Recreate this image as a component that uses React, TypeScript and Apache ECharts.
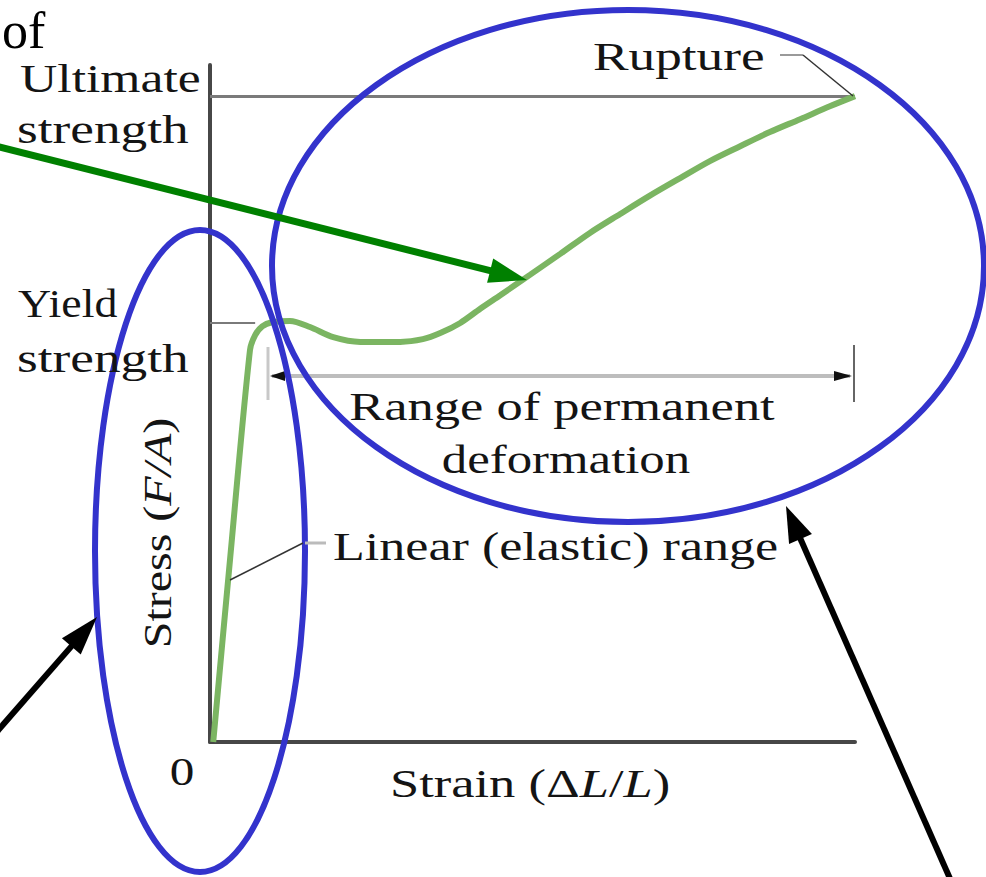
import React, { useEffect, useRef } from 'react';
import * as echarts from 'echarts';

// Stress–strain curve (strain in % of rupture strain, stress in % of axis height)
const strain = [0.5, 3.1, 6.2, 7.0, 8.1, 9.6, 12.4, 15.5, 19.1, 23.3, 29.5, 33.0, 35.7, 38.8, 41.9, 45.0, 49.6, 54.3, 58.9, 63.6, 68.2, 72.9, 77.5, 82.2, 86.8, 91.5, 96.1, 100];
const stress = [0, 26.9, 57.9, 60.1, 61.4, 62.0, 62.2, 61.3, 59.8, 59.1, 59.1, 59.5, 60.4, 61.9, 64.0, 66.0, 69.0, 72.1, 75.2, 78.0, 80.7, 83.3, 85.8, 88.0, 90.1, 92.0, 93.9, 95.4];

const yieldStrength = 62.0;
const ultimateStrength = 95.4;
const yieldMarkEnd = 7.0;
const ruptureStrain = 100;

const axisMin = [0, 0];
const axisMax = [100, 100];

const yAxisLabels = [
  ['Ultimate', 'strength'],
  ['Yield', 'strength'],
];
const originLabel = '0';
const annotationTexts = {
  rupture: 'Rupture',
  range: ['Range of permanent', 'deformation'],
  linear: 'Linear (elastic) range',
  slide: 'of',
};

const SERIF = '"Liberation Serif", "Times New Roman", serif';
const TEXT = '#141414';

function arrow(x1: number, y1: number, x2: number, y2: number, color: string, lw: number, headLen: number, headHalf: number) {
  const dx = x2 - x1, dy = y2 - y1;
  const L = Math.hypot(dx, dy);
  const ux = dx / L, uy = dy / L;
  const bx = x2 - ux * headLen, by = y2 - uy * headLen;
  const px = -uy, py = ux;
  return [
    { type: 'line', z: 100, shape: { x1, y1, x2: bx + ux * 3, y2: by + uy * 3 }, style: { stroke: color, lineWidth: lw } },
    {
      type: 'polygon', z: 100,
      shape: { points: [[x2, y2], [bx + px * headHalf, by + py * headHalf], [bx - px * headHalf, by - py * headHalf]] },
      style: { fill: color },
    },
  ];
}

function label(text: string, x: number, baseline: number, opts: any = {}) {
  const fs = opts.fontSize ?? 41;
  return {
    type: 'text', z: 100,
    x, y: baseline - 0.34 * fs,
    scaleX: opts.scaleX ?? 1.28,
    rotation: opts.rotation ?? 0,
    style: {
      text,
      x: 0, y: 0,
      fontFamily: SERIF,
      fontSize: fs,
      fill: opts.fill ?? TEXT,
      align: opts.align ?? 'left',
      verticalAlign: 'middle',
    },
  };
}

export default function App() {
  const ref = useRef<HTMLDivElement>(null);
  useEffect(() => {
    const chart = echarts.init(ref.current!, null, { renderer: 'svg' });
    const richBase = { fontFamily: SERIF, fontSize: 41, fill: TEXT, color: TEXT };
    const option: any = {
      animation: false,
      backgroundColor: '#ffffff',
      grid: { left: 210, top: 65, width: 645, height: 677, containLabel: false },
      xAxis: {
        type: 'value', min: axisMin[0], max: axisMax[0],
        axisLine: { show: true, onZero: false, lineStyle: { color: '#474747', width: 4 } },
        axisTick: { show: false }, axisLabel: { show: false }, splitLine: { show: false },
      },
      yAxis: {
        type: 'value', min: axisMin[1], max: axisMax[1],
        axisLine: { show: true, onZero: false, lineStyle: { color: '#474747', width: 4 } },
        axisTick: { show: false }, axisLabel: { show: false }, splitLine: { show: false },
      },
      series: [
        {
          type: 'line',
          data: strain.map((s, i) => [s, stress[i]]),
          smooth: 0.3,
          symbol: 'none',
          z: 5,
          lineStyle: { color: '#7bb562', width: 6 },
          emphasis: { disabled: true },
          markLine: {
            silent: true,
            symbol: ['none', 'none'],
            label: { show: false },
            z: 3,
            lineStyle: { color: '#7a7a7a', width: 3, type: 'solid' },
            data: [
              [{ coord: [0, ultimateStrength] }, { coord: [ruptureStrain, ultimateStrength] }],
              [{ coord: [0, yieldStrength], lineStyle: { color: '#7a7a7a', width: 2, type: 'solid' } }, { coord: [yieldMarkEnd, yieldStrength] }],
            ],
          },
        },
      ],
      graphic: [
        // slide text fragment
        {
          type: 'text', z: 100, x: 2, y: 4,
          style: { text: annotationTexts.slide, x: 0, y: 0, fontFamily: SERIF, fontSize: 52, fill: '#000', align: 'left', verticalAlign: 'top' },
        },
        // y-axis level labels
        label(yAxisLabels[0][0], 20, 92, { scaleX: 1.26 }),
        label(yAxisLabels[0][1], 17, 143, { scaleX: 1.3 }),
        label(yAxisLabels[1][0], 18, 317, { scaleX: 1.12 }),
        label(yAxisLabels[1][1], 17, 372, { scaleX: 1.3 }),
        label(originLabel, 182, 785, { align: 'center', scaleX: 1.2 }),
        // axis titles
        {
          type: 'text', z: 100, x: 390, y: 797 - 14, scaleX: 1.28,
          style: {
            text: '{n|Strain (Δ}{i|L}{n|/}{i|L}{n|)}', x: 0, y: 0, align: 'left', verticalAlign: 'middle',
            rich: { n: { ...richBase }, i: { ...richBase, fontStyle: 'italic' } },
          },
        },
        {
          type: 'text', z: 100, x: 158, y: 533, scaleX: 1.2, rotation: Math.PI / 2,
          style: {
            text: '{n|Stress (}{i|F/A}{n|)}', x: 0, y: 0, align: 'center', verticalAlign: 'middle',
            rich: { n: { ...richBase, fontSize: 40 }, i: { ...richBase, fontSize: 40, fontStyle: 'italic' } },
          },
        },
        // Rupture label and leader
        label(annotationTexts.rupture, 593, 70, { scaleX: 1.3 }),
        { type: 'line', z: 100, shape: { x1: 780, y1: 55, x2: 803, y2: 55 }, style: { stroke: '#9a9a9a', lineWidth: 2 } },
        { type: 'line', z: 100, shape: { x1: 803, y1: 55, x2: 853, y2: 96 }, style: { stroke: '#333', lineWidth: 1.5 } },
        // Range of permanent deformation dimension
        { type: 'line', z: 60, shape: { x1: 272, y1: 376, x2: 850, y2: 376 }, style: { stroke: '#bdbdbd', lineWidth: 4 } },
        { type: 'line', z: 60, shape: { x1: 268, y1: 347, x2: 268, y2: 400 }, style: { stroke: '#c8c8c8', lineWidth: 3 } },
        { type: 'line', z: 60, shape: { x1: 854, y1: 345, x2: 854, y2: 402 }, style: { stroke: '#333', lineWidth: 1.5 } },
        { type: 'polygon', z: 61, shape: { points: [[270, 376], [285, 371], [285, 381]] }, style: { fill: '#111' } },
        { type: 'polygon', z: 61, shape: { points: [[852, 376], [834, 371], [834, 381]] }, style: { fill: '#111' } },
        label(annotationTexts.range[0], 562, 420, { align: 'center', scaleX: 1.28 }),
        label(annotationTexts.range[1], 566, 473, { align: 'center', scaleX: 1.24 }),
        // Linear range label and leader
        label(annotationTexts.linear, 333, 560, { scaleX: 1.27 }),
        { type: 'line', z: 100, shape: { x1: 230, y1: 580, x2: 303, y2: 543 }, style: { stroke: '#333', lineWidth: 1.5 } },
        { type: 'line', z: 100, shape: { x1: 305, y1: 543, x2: 326, y2: 543 }, style: { stroke: '#bbb', lineWidth: 3 } },
        // blue ellipses
        { type: 'ellipse', z: 95, shape: { cx: 200, cy: 551, rx: 105, ry: 321 }, style: { fill: 'none', stroke: '#3333cc', lineWidth: 6 } },
        { type: 'ellipse', z: 95, shape: { cx: 628, cy: 266, rx: 356, ry: 256 }, style: { fill: 'none', stroke: '#3333cc', lineWidth: 6 } },
        // arrows
        ...arrow(-10, 144.5, 527, 280, '#008000', 7, 38, 12.5),
        ...arrow(-20, 751, 97, 617, '#000', 6, 39, 12.5),
        ...arrow(955, 890, 786, 506, '#000', 6, 36, 12.5),
      ],
    };
    chart.setOption(option);
    return () => chart.dispose();
  }, []);
  return <div ref={ref} style={{ position: 'absolute', left: 0, top: 0, width: 986, height: 877, background: '#fff' }} />;
}
